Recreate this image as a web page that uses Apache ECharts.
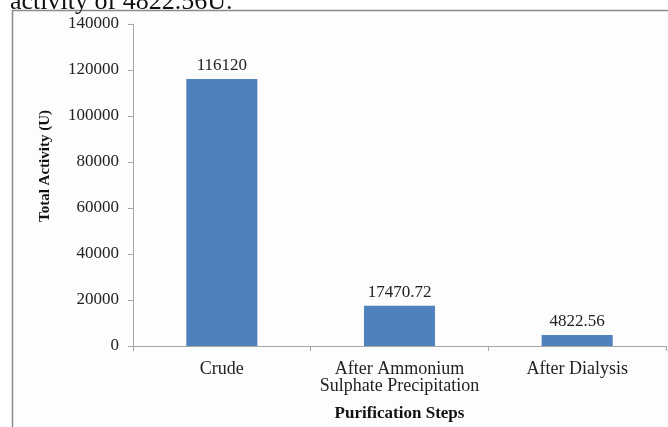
<!DOCTYPE html>
<html>
<head>
<meta charset="utf-8">
<script src="https://cdn.jsdelivr.net/npm/echarts@6/dist/echarts.min.js"></script>
<style>
  html, body { margin: 0; padding: 0; background: #ffffff; }
  #chart { width: 668px; height: 427px; }
</style>
</head>
<body>
<div id="chart"></div>
<script>
// Purification steps and the total enzyme activity measured after each one
const steps = ['Crude', 'After Ammonium\nSulphate Precipitation', 'After Dialysis'];
const totalActivity = [116120, 17470.72, 4822.56];
const valueLabels = ['116120', '17470.72', '4822.56'];
const yTicks = { min: 0, max: 140000, interval: 20000 };

const serif = '"Liberation Serif", "Times New Roman", serif';
const chart = echarts.init(document.getElementById('chart'));

chart.setOption({
  animation: false,
  backgroundColor: '#ffffff',
  graphic: [
    {
      type: 'rect',
      z: -10,
      shape: { x: 12.5, y: 10.5, width: 720, height: 440 },
      style: { fill: '#fdfdfd', stroke: '#8a8a8a', lineWidth: 1.5 }
    },
    {
      type: 'text',
      left: 10,
      top: -11,
      style: { text: 'activity of 4822.56U.', font: '26px ' + serif, fill: '#111' }
    },
    {
      type: 'text',
      x: 45,
      y: 166,
      rotation: Math.PI / 2,
      style: {
        text: 'Total Activity (U)',
        font: 'bold 15px ' + serif,
        fill: '#111',
        align: 'center',
        verticalAlign: 'middle'
      }
    }
  ],
  grid: { left: 133, top: 24, width: 533, height: 323, containLabel: false },
  xAxis: {
    type: 'category',
    data: steps,
    name: 'Purification Steps',
    nameLocation: 'middle',
    nameGap: 59,
    nameTextStyle: { fontFamily: serif, fontWeight: 'bold', fontSize: 17, color: '#111' },
    axisLine: { lineStyle: { color: '#a6a6a6', width: 1 } },
    axisTick: { show: true, alignWithLabel: false, length: 5, lineStyle: { color: '#a6a6a6' } },
    axisLabel: { fontFamily: serif, fontSize: 18, color: '#222', margin: 15, lineHeight: 17, interval: 0 }
  },
  yAxis: {
    type: 'value',
    min: yTicks.min,
    max: yTicks.max,
    interval: yTicks.interval,
    axisLine: { show: true, lineStyle: { color: '#a6a6a6', width: 1 } },
    axisTick: { show: true, length: 5, lineStyle: { color: '#a6a6a6' } },
    splitLine: { show: false },
    axisLabel: { fontFamily: serif, fontSize: 17, color: '#222', margin: 14, formatter: v => String(v) }
  },
  series: [
    {
      type: 'bar',
      data: totalActivity,
      barWidth: '40%',
      itemStyle: { color: '#4f81bd' },
      label: {
        show: true,
        position: 'top',
        distance: 5,
        fontFamily: serif,
        fontSize: 17,
        color: '#222',
        formatter: p => valueLabels[p.dataIndex]
      }
    }
  ]
});
</script>
</body>
</html>
